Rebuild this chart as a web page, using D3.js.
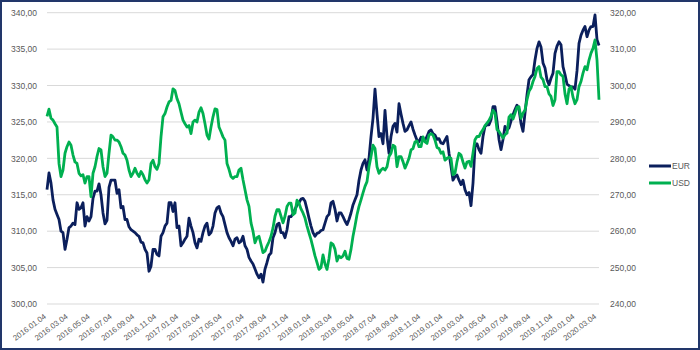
<!DOCTYPE html>
<html><head><meta charset="utf-8">
<script src="https://cdn.jsdelivr.net/npm/d3@7"></script>
<style>body{margin:0;background:#fff} svg{display:block}</style>
</head><body><svg id="c" width="700" height="350"></svg>
<script>
const startDate = "2016.01.04";
const endDate = "2020.03.09";
const tickLabels = ["2016.01.04","2016.03.04","2016.05.04","2016.07.04","2016.09.04","2016.11.04",
  "2017.01.04","2017.03.04","2017.05.04","2017.07.04","2017.09.04","2017.11.04",
  "2018.01.04","2018.03.04","2018.05.04","2018.07.04","2018.09.04","2018.11.04",
  "2019.01.04","2019.03.04","2019.05.04","2019.07.04","2019.09.04","2019.11.04",
  "2020.01.04","2020.03.04"];
const leftTicks = [300,305,310,315,320,325,330,335,340];
const rightTicks = [240,250,260,270,280,290,300,310,320];
const seriesNames = ["EUR","USD"];
// EUR/HUF (left axis), roughly every 5-6 days
const eur = [
 315.7,318.0,316.6,314.3,313.0,312.3,311.6,310.0,309.8,307.5,308.9,310.5,310.7,311.1,310.9,313.9,
 313.0,313.2,313.9,310.7,312.0,311.4,312.0,314.5,315.5,315.5,316.5,315.0,312.5,311.0,311.5,316.0,
 317.0,317.0,317.0,315.2,315.7,313.2,313.4,311.6,311.6,310.6,310.2,310.0,309.8,309.5,309.3,308.5,
 308.4,307.5,307.0,304.5,305.2,307.5,307.5,306.8,306.6,309.3,309.8,310.7,311.1,313.9,313.9,312.7,
 313.9,310.5,310.7,308.0,308.4,308.9,309.3,
 311.8,310.7,309.8,308.4,307.7,308.9,308.6,309.8,310.7,311.1,309.5,309.8,310.7,312.5,313.2,313.4,
 312.5,312.0,310.9,309.8,309.1,308.6,308.0,308.9,309.1,308.4,308.6,309.3,308.0,307.5,306.4,305.9,
 305.5,304.8,304.1,303.6,304.1,303.0,304.8,305.7,306.7,307.0,309.1,309.8,310.9,311.1,309.8,309.8,
 309.1,310.2,312.0,312.0,312.4,313.0,313.6,313.9,314.4,314.5,314.1,313.0,311.8,310.7,309.8,309.3,
 309.7,309.8,310.1,310.2,311.1,312.0,
 312.3,313.9,314.1,313.0,311.4,312.5,312.5,312.0,311.4,310.9,311.6,312.5,313.6,314.3,315.0,317.0,
 318.4,319.3,319.8,318.4,320.0,323.0,325.5,329.5,326.1,323.0,323.4,322.0,326.6,323.0,320.7,323.0,
 324.4,324.8,323.6,327.5,326.1,324.8,323.7,323.9,324.5,325.0,324.0,323.2,322.5,322.3,322.9,322.7,
 322.5,323.0,323.7,323.9,323.4,323.2,322.6,322.7,322.1,322.0,322.5,323.0,320.7,318.9,317.0,317.5,
 317.7,317.0,316.4,317.0,315.7,315.0,
 315.3,313.5,316.6,321.6,322.0,321.2,320.7,323.0,324.4,324.6,324.6,325.3,327.1,327.1,325.1,322.6,
 321.2,322.6,324.4,323.9,324.2,325.1,326.0,326.7,327.3,326.7,324.8,323.7,326.2,328.7,330.8,331.2,
 331.5,333.5,335.1,336.0,335.3,333.1,332.4,330.8,330.1,331.0,331.7,334.4,335.4,336.0,335.6,332.6,
 331.5,330.2,330.0,329.8,329.8,329.5,332.0,335.8,336.9,337.6,338.1,336.7,337.6,338.1,338.1,339.7,
 336.3,335.5
];
// USD/HUF (right axis)
const usd = [
 291.5,293.5,291.0,290.5,289.5,288.6,278.6,275.0,276.8,281.4,283.2,284.5,283.6,280.9,279.0,278.6,
 275.9,275.2,275.5,273.2,275.0,275.0,269.5,275.9,277.7,280.5,282.7,282.3,277.7,275.0,275.9,281.4,
 286.4,285.9,285.0,285.0,284.5,283.2,281.4,280.9,279.5,276.8,275.0,275.9,277.3,275.9,275.0,276.4,
 275.5,274.1,273.2,274.1,278.6,279.5,277.7,277.0,278.6,285.9,291.4,292.3,294.1,295.5,295.9,299.1,
 298.6,296.4,295.0,292.7,290.5,289.5,288.6,
 289.0,286.8,290.0,290.5,290.0,292.7,293.9,292.3,289.5,286.4,285.3,288.6,291.4,293.6,293.4,288.6,
 287.3,285.9,285.0,278.6,277.0,275.0,274.5,275.0,275.0,276.8,277.3,274.1,271.4,268.6,266.8,262.3,
 260.0,256.8,258.2,258.6,256.4,254.1,254.5,255.9,257.1,258.6,260.9,264.1,265.9,265.9,264.1,262.3,
 264.1,266.8,267.7,267.7,264.5,265.0,268.5,267.7,266.1,265.0,263.6,261.4,259.5,257.7,255.5,253.2,
 251.4,249.5,250.0,253.5,251.0,249.5,
 252.5,256.8,256.4,255.0,251.8,253.2,252.7,253.2,254.5,252.5,252.3,255.0,258.6,261.4,264.5,266.8,
 268.6,270.5,272.3,273.6,277.7,280.5,283.6,282.7,277.7,275.9,276.8,277.3,276.8,277.7,280.5,281.4,
 283.6,283.2,277.7,280.5,280.5,279.1,277.3,278.6,280.0,282.3,282.7,284.5,284.8,283.2,283.2,285.9,
 284.5,284.1,286.4,286.8,286.4,285.0,283.0,282.7,281.4,281.8,279.5,280.0,280.3,280.0,275.5,275.9,
 279.1,281.4,280.9,279.0,277.3,279.0,
 279.2,277.8,281.5,285.1,286.0,286.0,287.1,287.9,289.0,289.7,290.4,291.5,293.2,292.4,287.9,287.4,
 286.5,285.6,286.5,286.9,291.3,292.0,290.8,292.4,294.0,294.2,291.0,292.4,293.3,296.1,298.4,299.3,
 301.1,302.5,304.7,305.2,302.3,301.6,299.7,299.7,297.7,297.0,294.5,296.1,303.8,303.8,302.9,302.5,
 297.7,295.0,299.0,299.7,296.8,295.0,296.1,299.7,301.1,303.4,305.2,304.3,307.0,308.9,310.2,312.5,
 307.0,296.1
];

const colors = {EUR: "#0b1f5c", USD: "#00b050"};
const textColor = "#595959";
const font = "'Liberation Sans', Arial, sans-serif";

const svg = d3.select("#c");
const W = 700, H = 350;
const plot = {left: 47, right: 599, top: 12.7, bottom: 304};

const parse = d3.utcParse("%Y.%m.%d");
const t0 = parse(startDate), t1 = parse(endDate);
const n = eur.length;
const dates = d3.range(n).map(i => new Date(+t0 + i * (t1 - t0) / (n - 1)));

const x = d3.scaleUtc().domain([t0, t1]).range([plot.left, plot.right]);
const yL = d3.scaleLinear().domain([300, 340]).range([plot.bottom, plot.top]);
const yR = d3.scaleLinear().domain([240, 320]).range([plot.bottom, plot.top]);

svg.append("rect").attr("width", W).attr("height", H).attr("fill", "#fff");

// gridlines
svg.append("g").selectAll("line").data(leftTicks).join("line")
  .attr("x1", plot.left).attr("x2", plot.right)
  .attr("y1", d => yL(d)).attr("y2", d => yL(d))
  .attr("stroke", "#d9d9d9").attr("stroke-width", 1);

const fmt = v => d3.format(".2f")(v).replace(".", ",");

// left axis
const gl = svg.append("g").attr("transform", `translate(${plot.left},0)`)
  .call(d3.axisLeft(yL).tickValues(leftTicks).tickFormat(fmt).tickSize(0).tickPadding(10));
gl.select(".domain").remove();
gl.selectAll("text").attr("fill", textColor).style("font-family", font).style("font-size", "8.5px");

// right axis
const gr = svg.append("g").attr("transform", `translate(${plot.right},0)`)
  .call(d3.axisRight(yR).tickValues(rightTicks).tickFormat(fmt).tickSize(0).tickPadding(11));
gr.select(".domain").remove();
gr.selectAll("text").attr("fill", textColor).style("font-family", font).style("font-size", "8.5px");

// x axis labels
const gx = svg.append("g").attr("transform", `translate(0,${plot.bottom})`)
  .call(d3.axisBottom(x).tickValues(tickLabels.map(parse)).tickFormat(d3.utcFormat("%Y.%m.%d")).tickSize(0));
gx.select(".domain").remove();
gx.selectAll(".tick text")
  .attr("fill", textColor).style("font-family", font).style("font-size", "7.8px")
  .attr("text-anchor", "end").attr("x", -1).attr("y", 0).attr("dy", "0")
  .attr("transform", "translate(0,13) rotate(-37)");

// lines
const lineL = d3.line().x((d, i) => x(dates[i])).y(d => yL(d));
const lineR = d3.line().x((d, i) => x(dates[i])).y(d => yR(d));
svg.append("path").datum(eur).attr("d", lineL).attr("fill", "none")
  .attr("stroke", colors.EUR).attr("stroke-width", 2.8).attr("stroke-linejoin", "round");
svg.append("path").datum(usd).attr("d", lineR).attr("fill", "none")
  .attr("stroke", colors.USD).attr("stroke-width", 2.8).attr("stroke-linejoin", "round");

// legend
const lg = svg.append("g");
seriesNames.forEach((s, i) => {
  const yy = 166 + i * 17;
  lg.append("line").attr("x1", 649).attr("x2", 671).attr("y1", yy).attr("y2", yy)
    .attr("stroke", colors[s]).attr("stroke-width", 3);
  lg.append("text").attr("x", 672).attr("y", yy).attr("dy", "0.35em")
    .attr("fill", textColor).style("font-family", font).style("font-size", "8.5px").text(s);
});

// border
svg.append("rect").attr("x", 1).attr("y", 1).attr("width", W - 2).attr("height", H - 2)
  .attr("fill", "none").attr("stroke", "#22366a").attr("stroke-width", 2);
</script>
</body></html>
